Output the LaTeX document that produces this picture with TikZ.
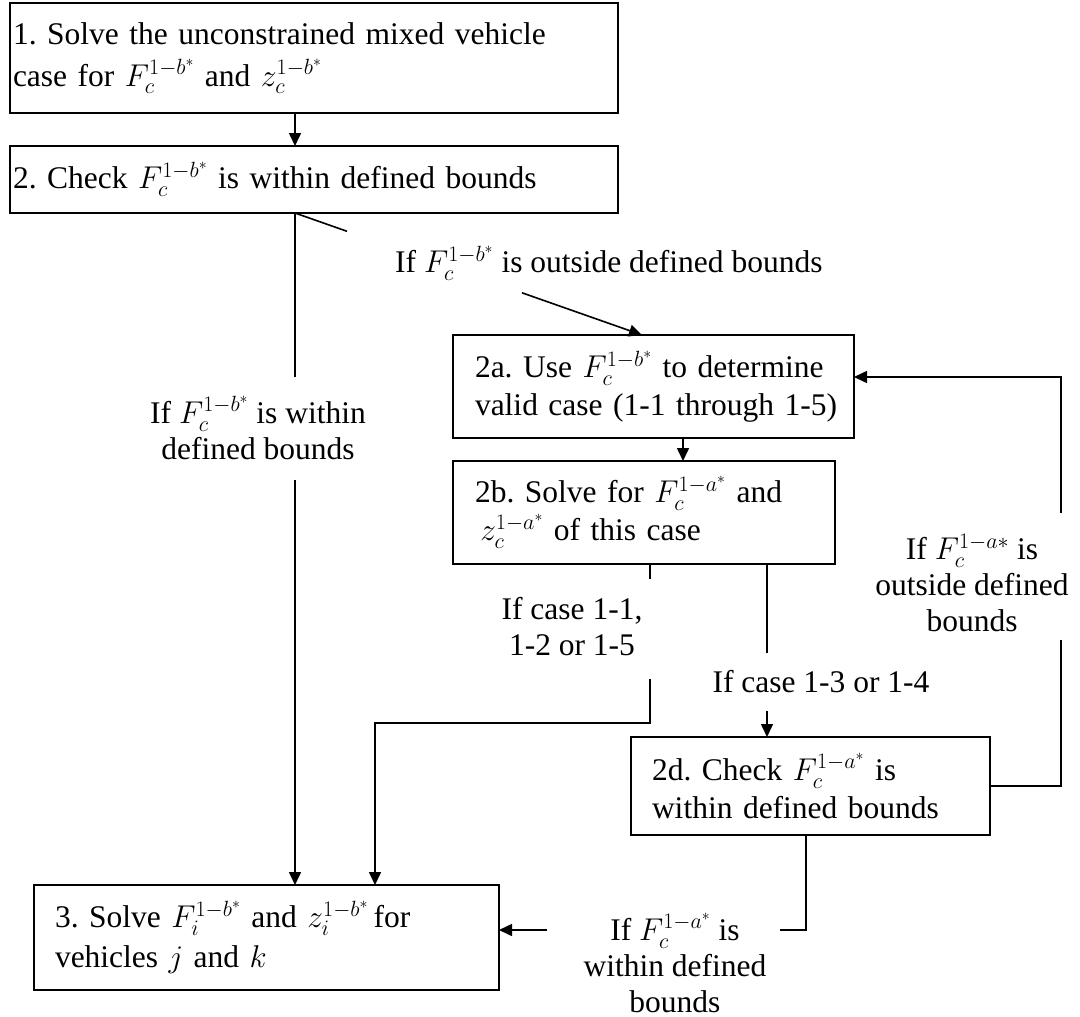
\RequirePackage{fix-cm}
\documentclass[tikz,border=0pt]{standalone}
\usepackage{fontspec}
\setmainfont{Liberation Serif}
\usetikzlibrary{arrows.meta,calc}
\frenchspacing
\tikzset{
  box/.style={draw, line width=1.6pt, rectangle, align=left, outer sep=0pt,
    font=\fontsize{31.5}{38}\selectfont},
  lbl/.style={align=center, inner sep=0pt, font=\fontsize{31.5}{36}\selectfont},
  conn/.style={line width=1.6pt},
  arr/.style={line width=1.6pt, -{Triangle[length=13pt,width=12pt]}}
}
\begin{document}
\begin{tikzpicture}[x=1pt,y=-1pt]
\useasboundingbox (0,0) rectangle (1080,1017);

% boxes
\node[box, font=\fontsize{31.5}{42}\selectfont, minimum width=608pt, minimum height=110pt, inner xsep=3pt, text width=602pt] (b1) at (314,58)
  {\mbox{1. Solve the unconstrained mixed vehicle}\\\mbox{case for $F_c^{1-b^*}$ and $z_c^{1-b^*}$}};
\node[box, minimum width=608pt, minimum height=67pt, inner xsep=3pt, text width=602pt] (b2) at (314,179.5)
  {\mbox{2. Check $F_c^{1-b^*}$ is within defined bounds}};
\node[box, minimum width=401pt, minimum height=103pt, inner xsep=22pt, text width=357pt] (b2a) at (653.5,386.5)
  {\mbox{2a. Use $F_c^{1-b^*}$ to determine}\\\mbox{valid case (1-1 through 1-5)}};
\node[box, minimum width=382pt, minimum height=103pt, inner xsep=22pt, text width=338pt] (b2b) at (644,512.5)
  {\mbox{2b. Solve for $F_c^{1-a^*}$ and}\\\mbox{\,$z_c^{1-a^*}$ of this case}};
\node[box, minimum width=359pt, minimum height=98pt, inner xsep=21pt, text width=317pt] (b2d) at (810.5,786)
  {\mbox{2d. Check $F_c^{1-a^*}$ is}\\\mbox{within defined bounds}};
\node[box, font=\fontsize{31.5}{40}\selectfont, minimum width=465pt, minimum height=105pt, inner xsep=21pt, text width=423pt] (b3) at (266.5,937.5)
  {\mbox{3. Solve $F_i^{1-b^*}$ and $z_i^{1-b^*}$\,for}\\\mbox{vehicles $j$ and $k$}};

% labels
\node[lbl] (l1) at (258,428) {If $F_c^{1-b^*}$ is within\\defined bounds};
\node[lbl, anchor=west] (l2) at (395,263) {If $F_c^{1-b^*}$ is outside defined bounds};
\node[lbl] (l3) at (572,627) {If case 1-1,\\1-2 or 1-5};
\node[lbl] (l4) at (821,682) {If case 1-3 or 1-4};
\node[lbl] (l5) at (972,583) {If $F_c^{1-a*}$ is\\outside defined\\bounds};
\node[lbl] (l6) at (675,963) {If $F_c^{1-a^*}$ is\\within defined\\bounds};

% helper coordinates
\coordinate (xA) at (295,0);
\coordinate (xB) at (683,0);
\coordinate (xC) at (650,0);
\coordinate (xD) at (375,0);
\coordinate (xE) at (767,0);
\coordinate (xF) at (806,0);
\coordinate (g1a) at (295,377);
\coordinate (g1b) at (295,480);
\coordinate (d1) at (347,231.3);
\coordinate (d2) at (522,292.8);
\coordinate (dt) at (642,0);
\coordinate (g3a) at (650,579);
\coordinate (g3b) at (650,679);
\coordinate (c3) at (650,723);
\coordinate (c3b) at (375,723);
\coordinate (g4a) at (767,653);
\coordinate (g4b) at (767,711);
\coordinate (c5a) at (1061,786);
\coordinate (g5a) at (1061,640);
\coordinate (g5b) at (1061,513);
\coordinate (c5b) at (1061,377);
\coordinate (c6a) at (806,930);
\coordinate (g6a) at (780,930);
\coordinate (g6b) at (547,930);

% connectors
\draw[arr] (b1.south -| xA) -- (b2.north -| xA);
\draw[conn] (b2.south -| xA) -- (g1a);
\draw[arr] (g1b) -- (b3.north -| xA);
\draw[conn] (b2.south -| xA) -- (d1);
\draw[arr] (d2) -- (b2a.north -| dt);
\draw[arr] (b2a.south -| xB) -- (b2b.north -| xB);
\draw[conn] (b2b.south -| xC) -- (g3a);
\draw[arr] (g3b) -- (c3) -- (c3b) -- (b3.north -| xD);
\draw[conn] (b2b.south -| xE) -- (g4a);
\draw[arr] (g4b) -- (b2d.north -| xE);
\draw[conn] (b2d.east) -- (c5a) -- (g5a);
\draw[arr] (g5b) -- (c5b) -- (b2a.east |- c5b);
\draw[conn] (b2d.south -| xF) -- (c6a) -- (g6a);
\draw[arr] (g6b) -- (b3.east |- g6b);
\end{tikzpicture}
\end{document}
